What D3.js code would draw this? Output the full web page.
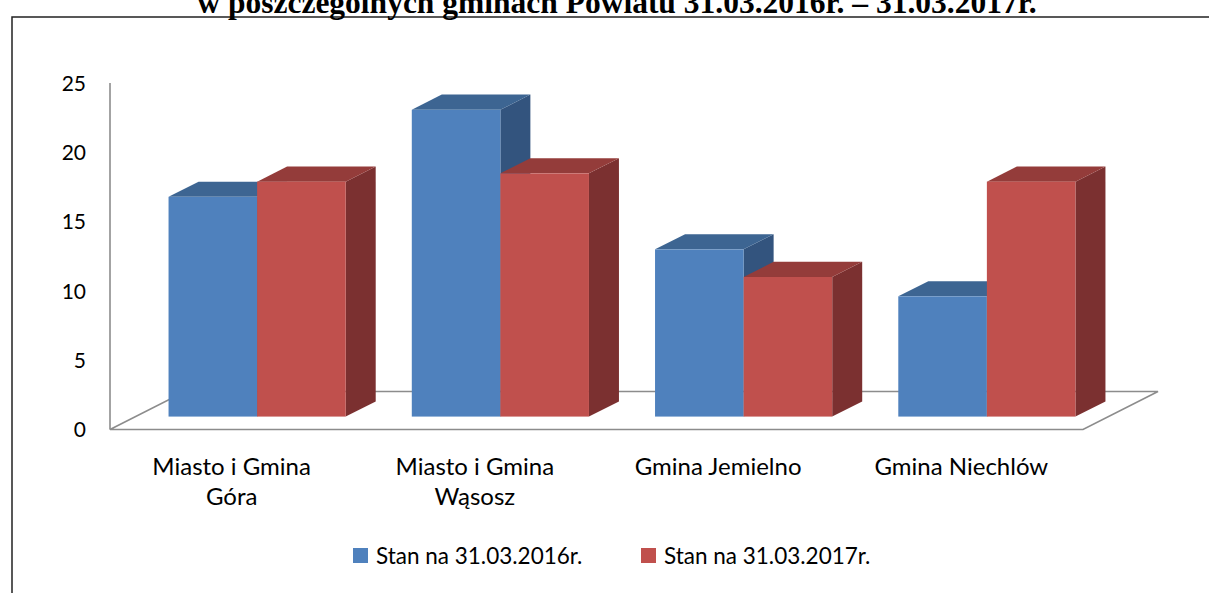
<!DOCTYPE html>
<html>
<head>
<meta charset="utf-8">
<script src="https://cdn.jsdelivr.net/npm/d3@7"></script>
<style>
  body { margin: 0; background: #fff; }
  svg { display: block; }
</style>
</head>
<body>
<svg></svg>
<script>
// data
const categories = [["Miasto i Gmina", "Góra"], ["Miasto i Gmina", "Wąsosz"], ["Gmina Jemielno"], ["Gmina Niechlów"]];
const seriesNames = ["Stan na 31.03.2016r.", "Stan na 31.03.2017r."];
const values2016 = [15.9, 22.2, 12.1, 8.7];
const values2017 = [17.0, 17.6, 10.1, 17.0];
const yTicks = [0, 5, 10, 15, 20, 25];
const titleText = "w poszczególnych gminach Powiatu 31.03.2016r. – 31.03.2017r.";

const width = 1209, height = 593;
const svg = d3.select("svg").attr("width", width).attr("height", height);
const sans = "Lato, 'Open Sans', sans-serif";

// colours: front, top, side
const colors = [
    { front: "#4f81bd", top: "#3d6592", side: "#33547e" },
    { front: "#c0504d", top: "#943c3a", side: "#7b3030" }
];

// frame + cut title
svg.append("rect")
    .attr("x", 12).attr("y", 17)
    .attr("width", 1300).attr("height", 700)
    .attr("fill", "none").attr("stroke", "#222").attr("stroke-width", 1.5);

svg.append("text")
    .attr("x", 617).attr("y", 13)
    .attr("text-anchor", "middle")
    .style("font-family", "'Liberation Serif', 'Times New Roman', serif")
    .style("font-weight", "bold")
    .style("font-size", "31.5px")
    .text(titleText);

// scales (front plane of the floor)
const catKeys = categories.map(c => c.join(" "));
const x0 = d3.scaleBand().domain(catKeys).range([110, 1083]).padding(0);
const x1 = d3.scaleBand().domain(seriesNames).range([0, x0.bandwidth()]).paddingInner(0).paddingOuter(0.373);
const y = d3.scaleLinear().domain([0, 25]).range([429.5, 84]);

// oblique depth of the floor and where the bars sit in it
const DX = 75, DY = -38;
const d0 = 0.34, d1 = 0.74;

const g = svg.append("g");

// floor + vertical axis line
const floor = [
    [x0.range()[0], y(0)],
    [x0.range()[1], y(0)],
    [x0.range()[1] + DX, y(0) + DY],
    [x0.range()[0] + DX, y(0) + DY]
];
g.append("path")
    .attr("d", "M" + floor.map(p => p.join(",")).join("L") + "Z")
    .attr("fill", "none").attr("stroke", "#8c8c8c").attr("stroke-width", 1.6);
g.append("line")
    .attr("x1", 110).attr("x2", 110)
    .attr("y1", y(0)).attr("y2", y(25) - 1)
    .attr("stroke", "#8c8c8c").attr("stroke-width", 1.6);

// y axis labels
const yAxis = d3.axisLeft(y).tickValues(yTicks).tickSize(0).tickPadding(24);
const yg = g.append("g").attr("transform", "translate(110,0)").call(yAxis);
yg.select(".domain").remove();
yg.selectAll("text")
    .style("font-family", sans)
    .style("font-size", "21px")
    .attr("fill", "#000");

// bars
const bars = [];
catKeys.forEach((c, i) => {
    [values2016[i], values2017[i]].forEach((v, s) => {
        bars.push({ cat: c, s: s, value: v });
    });
});

const ox = d0 * DX, oy = d0 * DY;
const bx = (d1 - d0) * DX, by = (d1 - d0) * DY;

bars.forEach(d => {
    const xl = x0(d.cat) + x1(seriesNames[d.s]) + ox;
    const xr = xl + x1.bandwidth();
    const yt = y(d.value) + oy;
    const yb = y(0) + oy;
    const col = colors[d.s];
    const bar = g.append("g").attr("class", "bar");
    // side
    bar.append("path")
        .attr("d", `M${xr},${yt}L${xr + bx},${yt + by}L${xr + bx},${yb + by}L${xr},${yb}Z`)
        .attr("fill", col.side);
    // top
    bar.append("path")
        .attr("d", `M${xl},${yt}L${xl + bx},${yt + by}L${xr + bx},${yt + by}L${xr},${yt}Z`)
        .attr("fill", col.top);
    // front
    bar.append("rect")
        .attr("x", xl).attr("y", yt)
        .attr("width", xr - xl).attr("height", yb - yt)
        .attr("fill", col.front);
});

// category labels
const catLabels = g.selectAll(".cat")
    .data(categories)
    .enter()
    .append("text")
    .attr("class", "cat")
    .attr("text-anchor", "middle")
    .attr("x", (d, i) => x0(catKeys[i]) + x0.bandwidth() / 2)
    .attr("y", 475)
    .style("font-family", sans)
    .style("font-size", "24px");
catLabels.selectAll("tspan")
    .data(d => d)
    .enter()
    .append("tspan")
    .attr("x", function () { return this.parentNode.getAttribute("x"); })
    .attr("dy", (d, i) => i === 0 ? 0 : 30)
    .text(d => d);

// legend
const legendX = [353, 641];
const legend = g.selectAll(".legend")
    .data(seriesNames)
    .enter()
    .append("g")
    .attr("class", "legend")
    .attr("transform", (d, i) => `translate(${legendX[i]},548)`);
legend.append("rect")
    .attr("width", 15).attr("height", 15)
    .attr("fill", (d, i) => colors[i].front);
legend.append("text")
    .attr("x", 23).attr("y", 16)
    .style("font-family", sans)
    .style("font-size", "22.5px")
    .text(d => d);
</script>
</body>
</html>
